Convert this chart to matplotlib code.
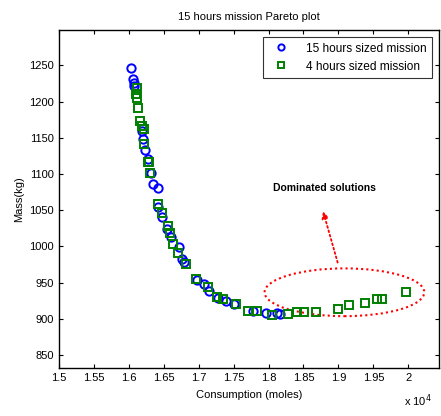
import matplotlib
matplotlib.use("Agg")
import matplotlib.pyplot as plt
from matplotlib.patches import Ellipse

plt.rcParams['font.family'] = ['Liberation Sans', 'DejaVu Sans']

# Consumption in units of 1e4 moles, mass in kg
cons_15h = [1.6029, 1.6053, 1.6067, 1.6076, 1.6181, 1.6204, 1.6233, 1.6267,
            1.6324, 1.6339, 1.6424, 1.6424, 1.6481, 1.6553, 1.6600, 1.6719,
            1.6767, 1.6790, 1.6981, 1.7071, 1.7147, 1.7281, 1.7386, 1.7504,
            1.7776, 1.7957, 1.8124, 1.8161]
mass_15h = [1247, 1231, 1226, 1221, 1159, 1148, 1133, 1121,
            1102, 1086, 1081, 1055, 1040, 1024, 1013, 999,
            983, 978, 953, 948, 939, 929, 924, 920,
            911, 908, 908, 907]

cons_4h = [1.6114, 1.6100, 1.6110, 1.6124, 1.6161, 1.6181, 1.6210, 1.6219,
           1.6267, 1.6290, 1.6304, 1.6410, 1.6471, 1.6567, 1.6586, 1.6639,
           1.6710, 1.6814, 1.6967, 1.7139, 1.7257, 1.7353, 1.7529, 1.7704,
           1.7839, 1.8053, 1.8281, 1.8410, 1.8504, 1.8686, 1.8990, 1.9153,
           1.9386, 1.9553, 1.9619, 1.9967]
mass_4h = [1219, 1210, 1205, 1191, 1173, 1166, 1162, 1141,
           1116, 1116, 1102, 1059, 1046, 1028, 1018, 1004,
           991, 975, 955, 944, 930, 927, 920, 911,
           911, 905, 907, 910, 910, 910, 914, 919,
           922, 927, 927, 937]

xticks = [1.5, 1.55, 1.6, 1.65, 1.7, 1.75, 1.8, 1.85, 1.9, 1.95, 2.0]
xticklabels = ['1.5', '1.55', '1.6', '1.65', '1.7', '1.75', '1.8', '1.85', '1.9', '1.95', '2']
yticks = [850, 900, 950, 1000, 1050, 1100, 1150, 1200, 1250]

fig = plt.figure(figsize=(4.41, 4.16), dpi=100)
ax = fig.add_axes([0.1338, 0.1154, 0.8617, 0.8125])

ax.plot(cons_15h, mass_15h, 'o', linestyle='none', markerfacecolor='none',
        markeredgecolor='#0000ff', markersize=6, markeredgewidth=1.4,
        label='15 hours sized mission', zorder=3)
ax.plot(cons_4h, mass_4h, 's', linestyle='none', markerfacecolor='none',
        markeredgecolor='#008000', markersize=6, markeredgewidth=1.4,
        label='4 hours sized mission', zorder=4)

ax.set_xlim(1.5, 2.044)
ax.set_ylim(832, 1299)
ax.set_xticks(xticks)
ax.set_xticklabels(xticklabels)
ax.set_yticks(yticks)
ax.tick_params(direction='in', top=True, right=True, labelsize=8, length=3, width=0.8)
for s in ax.spines.values():
    s.set_linewidth(1.0)

ax.set_title('15 hours mission Pareto plot', fontsize=8, pad=7)
ax.set_xlabel('Consumption (moles)', fontsize=8, labelpad=5)
ax.set_ylabel('Mass(kg)', fontsize=8, labelpad=4)
fig.text(0.948, 0.036, r'x 10$^4$', fontsize=8, ha='center', va='center')

ell = Ellipse((1.9086, 936.6), 0.2286, 66, fill=False, edgecolor='red',
              linestyle=(0, (1, 1.5)), linewidth=1.5, zorder=2)
ax.add_patch(ell)
ax.annotate('', xy=(1.877, 1052), xytext=(1.9, 974),
            arrowprops=dict(arrowstyle='-|>', color='red', linestyle=(0, (1, 1.5)),
                            linewidth=1.3, mutation_scale=10))
ax.text(1.88, 1081, 'Dominated solutions', fontsize=7.5, fontweight='bold',
        ha='center', va='center')

leg = ax.legend(loc='upper right', fontsize=8.6, frameon=True, fancybox=False,
                edgecolor='black', borderpad=0.5, handletextpad=1.1,
                borderaxespad=0.55, markerscale=0.75, labelspacing=0.5)
leg.get_frame().set_linewidth(0.8)

fig.savefig('out.png', dpi=100)
